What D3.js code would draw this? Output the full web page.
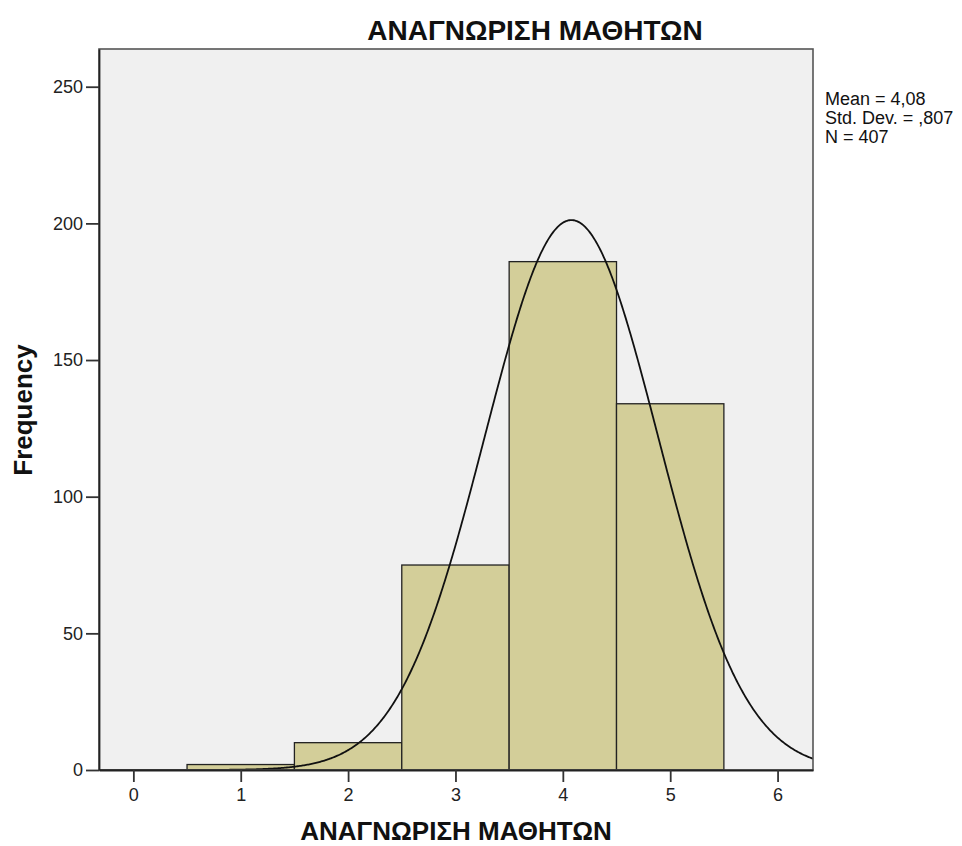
<!DOCTYPE html>
<html><head><meta charset="utf-8">
<script src="https://cdn.jsdelivr.net/npm/d3@7"></script>
<style>body{margin:0;background:#fff}svg{display:block;font-family:"Liberation Sans",Arial,sans-serif}</style>
</head><body><svg id="c" width="962" height="846"></svg>
<script>
const binStarts = [0.5, 1.5, 2.5, 3.5, 4.5];
const binEnds = [1.5, 2.5, 3.5, 4.5, 5.5];
const counts = [2, 10, 75, 186, 134];
const xTicks = [0, 1, 2, 3, 4, 5, 6];
const yTicks = [0, 50, 100, 150, 200, 250];
const statLines = ["Mean = 4,08", "Std. Dev. = ,807", "N = 407"];
const mean = 4.08, sd = 0.807, N = 407;

const svg = d3.select("#c");
const L = 99, R = 813, T = 49, B = 770;
const x = d3.scaleLinear().domain([-0.32, 6.33]).range([L, R]);
const y = d3.scaleLinear().domain([0, 263.8]).range([B, T]);

svg.append("rect").attr("x", L).attr("y", T).attr("width", R - L).attr("height", B - T).attr("fill", "#f0f0f0");

svg.selectAll("rect.bar").data(counts).enter().append("rect").attr("class", "bar")
  .attr("x", (d, i) => x(binStarts[i])).attr("width", (d, i) => x(binEnds[i]) - x(binStarts[i]))
  .attr("y", d => y(d)).attr("height", d => B - y(d))
  .attr("fill", "#d3ce99").attr("stroke", "#222").attr("stroke-width", 1.3);

const pts = d3.range(-0.32, 6.335, 0.01).map(v => [v, N * Math.exp(-0.5 * ((v - mean) / sd) ** 2) / (sd * Math.sqrt(2 * Math.PI))]);
svg.append("clipPath").attr("id", "pc").append("rect").attr("x", L).attr("y", T).attr("width", R - L).attr("height", B - T);
svg.append("path").datum(pts).attr("clip-path", "url(#pc)")
  .attr("d", d3.line().x(d => x(d[0])).y(d => y(d[1])))
  .attr("fill", "none").attr("stroke", "#111").attr("stroke-width", 1.8);

svg.append("rect").attr("x", L).attr("y", T).attr("width", R - L).attr("height", B - T)
  .attr("fill", "none").attr("stroke", "#555").attr("stroke-width", 1.6);

const xa = svg.append("g").attr("transform", `translate(0,${B})`)
  .call(d3.axisBottom(x).tickValues(xTicks).tickSize(12).tickPadding(3).tickSizeOuter(0).tickFormat(d3.format("d")));
const ya = svg.append("g").attr("transform", `translate(${L},0)`)
  .call(d3.axisLeft(y).tickValues(yTicks).tickSize(13).tickPadding(3).tickSizeOuter(0).tickFormat(d3.format("d")));
[xa, ya].forEach(g => {
  g.select(".domain").attr("stroke", "#222").attr("stroke-width", 1.8);
  g.selectAll(".tick line").attr("stroke", "#333").attr("stroke-width", 1.8);
  g.selectAll(".tick text").attr("font-size", 18).attr("fill", "#222").attr("font-family", "Liberation Sans, Arial, sans-serif");
});
xa.selectAll(".tick text").attr("dy", "0.9em");

svg.append("text").attr("x", 535).attr("y", 40).attr("text-anchor", "middle")
  .attr("font-size", 28).attr("font-weight", "bold").attr("fill", "#111").text("ΑΝΑΓΝΩΡΙΣΗ ΜΑΘΗΤΩΝ");
svg.append("text").attr("x", 456).attr("y", 840).attr("text-anchor", "middle")
  .attr("font-size", 26).attr("font-weight", "bold").attr("fill", "#111").text("ΑΝΑΓΝΩΡΙΣΗ ΜΑΘΗΤΩΝ");
svg.append("text").attr("transform", `translate(32,410) rotate(-90)`).attr("text-anchor", "middle")
  .attr("font-size", 26).attr("font-weight", "bold").attr("fill", "#111").text("Frequency");

svg.append("g").selectAll("text").data(statLines).enter().append("text")
  .attr("x", 825).attr("y", (d, i) => 105 + i * 19).attr("font-size", 18).attr("fill", "#111").text(d => d);
</script></body></html>
